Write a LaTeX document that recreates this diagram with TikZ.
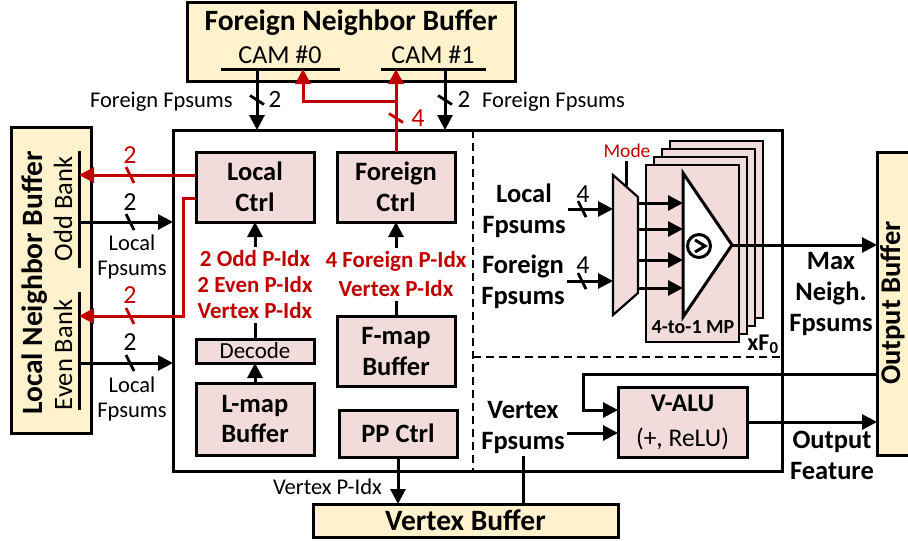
\documentclass[tikz,border=0pt]{standalone}
\usepackage{fontspec}
\setmainfont{Carlito}
\usetikzlibrary{arrows.meta,calc}
\definecolor{bufyellow}{HTML}{FFF2CC}
\definecolor{blockpink}{HTML}{F2DCDB}
\definecolor{ctrlred}{HTML}{C00000}
\newcommand\fsz[2]{\fontsize{#1}{#2}\selectfont}
% bus-width ticks across a vertical / horizontal wire
\newcommand\busV[2][black]{\draw[line width=2.8pt,#1] ($(#2)+(-7,-4.5)$) -- ($(#2)+(7,4.5)$);}
\newcommand\busH[2][black]{\draw[line width=2.8pt,#1] ($(#2)+(-4,-8)$) -- ($(#2)+(4,8)$);}
\begin{document}
\begin{tikzpicture}[x=1pt,y=-1pt,
  lw/.style={line width=3pt},
  wire/.style={lw, draw=black},
  redwire/.style={lw, draw=ctrlred},
  tip/.style={-{Triangle[length=15pt,width=15pt]}},
  bufbox/.style={draw, lw, fill=bufyellow, inner sep=0pt, outer sep=0pt},
  blkbox/.style={draw, lw, fill=blockpink, inner sep=0pt, outer sep=0pt, align=center},
  title/.style={font=\bfseries\fsz{29.5}{33}, inner sep=0pt},
  blab/.style={font=\bfseries\fsz{26.5}{31}, align=center, inner sep=2pt},
  rlab/.style={font=\fsz{22.5}{25}, inner sep=0pt, align=center},
  redlab/.style={font=\bfseries\fsz{23}{26}, text=ctrlred, align=center, inner sep=4pt},
  num/.style={font=\fsz{26}{28}, inner sep=0pt},
  part/.style={line width=2.2pt, dash pattern=on 8pt off 5pt},
]
\useasboundingbox (0,0) rectangle (908,541);

% ---------------- Foreign neighbor buffer
\node[bufbox, minimum width=328, minimum height=79] (fnb) at (351,41.5) {};
\node[title, anchor=base] (fnbtitle) at (351,30) {Foreign Neighbor Buffer};
\node[font=\fsz{26}{28}, inner sep=0pt, anchor=base] (cam0) at (280,63) {CAM \#0};
\node[font=\fsz{26}{28}, inner sep=0pt, anchor=base] (cam1) at (433,63) {CAM \#1};
\coordinate (cam0L) at (221,69); \coordinate (cam0R) at (340,69);
\coordinate (cam1L) at (381,69); \coordinate (cam1R) at (486,69);
\draw[wire] (cam0L) -- (cam0R);
\draw[wire] (cam1L) -- (cam1R);

% ---------------- processing element outline and partitions
\node[draw, lw, minimum width=609, minimum height=341, inner sep=0pt, outer sep=0pt] (main) at (477.5,300.5) {};
\coordinate (split) at (473,357);
\draw[part] (split |- main.north) -- (split |- main.south);
\draw[part] (split) -- (split -| main.east);

% ---------------- local neighbor buffer
\node[bufbox, minimum width=80, minimum height=306] (lnb) at (51,280) {};
\node[title, rotate=90, anchor=base] (lnbtitle) at (42,283) {Local Neighbor Buffer};
\node[font=\fsz{26.5}{28}, inner sep=0pt, rotate=90, anchor=base] (oddlab) at (72,209) {Odd Bank};
\node[font=\fsz{26.5}{28}, inner sep=0pt, rotate=90, anchor=base] (evenlab) at (72,355) {Even Bank};
\coordinate (oddT) at (79,151); \coordinate (oddB) at (79,268);
\coordinate (evenT) at (79,292); \coordinate (evenB) at (79,410);
\draw[wire] (oddT) -- (oddB);
\draw[wire] (evenT) -- (evenB);

% ---------------- output buffer
\node[bufbox, minimum width=40, minimum height=303] (outbuf) at (897,303.5) {};
\node[title, font=\bfseries\fsz{28.5}{32}, rotate=90, anchor=base] (outtitle) at (900,303) {Output Buffer};

% ---------------- vertex buffer
\node[bufbox, minimum width=305, minimum height=33, font=\bfseries\fsz{29.5}{33}] (vbuf) at (465.5,520.5) {Vertex Buffer};

% ---------------- control blocks
\node[blkbox, blab, inner sep=0pt, minimum width=118, minimum height=70] (lctrl) at (255,187) {Local\\Ctrl};
\node[blkbox, blab, inner sep=0pt, minimum width=118, minimum height=70] (fctrl) at (396,187) {Foreign\\Ctrl};
\node[blkbox, font=\fsz{23}{25}, minimum width=118, minimum height=24] (decode) at (255,351) {Decode};
\node[blkbox, blab, inner sep=0pt, minimum width=118, minimum height=72] (lmap) at (255,419) {L-map\\Buffer};
\node[blkbox, blab, inner sep=0pt, minimum width=118, minimum height=70] (fmap) at (396,351) {F-map\\Buffer};
\node[blkbox, blab, inner sep=0pt, minimum width=118, minimum height=47] (ppctrl) at (398,433.5) {PP Ctrl};

\node[redlab] (lidx) at (255,285) {2 Odd P-Idx\\2 Even P-Idx\\Vertex P-Idx};
\node[redlab, font=\bfseries\fsz{23}{29}] (fidx) at (396,274.5) {4 Foreign P-Idx\\Vertex P-Idx};
\draw[wire, tip] (lidx.north) -- (lctrl.south);
\draw[wire] (decode.north) -- (lidx.south);
\draw[wire, tip] (lmap.north) -- (decode.south);
\draw[wire, tip] (fidx.north) -- (fctrl.south);
\draw[wire] (fmap.north) -- (fidx.south);

% ---------------- foreign fpsums from the CAMs
\coordinate (cam0out) at (257,69);
\coordinate (cam1out) at (445,69);
\draw[wire, tip] (cam0out) -- (cam0out |- main.north);
\draw[wire, tip] (cam1out) -- (cam1out |- main.north);
\coordinate (b1) at (257,100); \busV{b1}
\coordinate (b2) at (445,100); \busV{b2}
\node[num, font=\fsz{25}{27}, anchor=base] (n1) at (275,107) {2};
\node[num, font=\fsz{25}{27}, anchor=base] (n2) at (464,107) {2};
\node[rlab, anchor=base east] (ffl) at (233,107) {Foreign Fpsums};
\node[rlab, anchor=base west] (ffr) at (482,107) {Foreign Fpsums};

% ---------------- foreign P-Idx to the CAMs
\coordinate (fsplitY) at (0,101);
\coordinate (cam0in) at (303,69);
\draw[redwire, tip] (fctrl.north) -- (fctrl.north |- cam1L);
\draw[redwire, tip] (fctrl.north |- fsplitY) -| (cam0in);
\coordinate (b3) at ($(fctrl.north |- fsplitY)+(0,17)$); \busV[ctrlred]{b3}
\node[num, text=ctrlred, anchor=base] (n3) at (418,126) {4};

% ---------------- local neighbor buffer links
\coordinate (oddIn) at (79,175);
\coordinate (oddOut) at (79,222);
\coordinate (evenIn) at (79,316);
\coordinate (evenOut) at (79,363);
\draw[redwire, tip] (lctrl.west |- oddIn) -- (oddIn);
\draw[redwire, tip] ($(lctrl.west)+(0,11)$) -- ++(-13,0) |- (evenIn);
\draw[wire, tip] (oddOut) -- (oddOut -| main.west);
\draw[wire, tip] (evenOut) -- (evenOut -| main.west);
\coordinate (s1) at (130,175); \busH[ctrlred]{s1}
\coordinate (s2) at (130,222); \busH{s2}
\coordinate (s3) at (130,316); \busH[ctrlred]{s3}
\coordinate (s4) at (130,363); \busH{s4}
\node[num, text=ctrlred, anchor=base] (n4) at (130,163) {2};
\node[num, anchor=base] (n5) at (130,210) {2};
\node[num, text=ctrlred, anchor=base] (n6) at (130,303) {2};
\node[num, anchor=base] (n7) at (130,350) {2};
\node[rlab] (lf1) at (132,257) {Local\\Fpsums};
\node[rlab] (lf2) at (132,399) {Local\\Fpsums};

% ---------------- max-pooling datapath
\coordinate (muxTL) at (613,175); \coordinate (muxTR) at (638,197);
\coordinate (muxBR) at (638,293); \coordinate (muxBL) at (613,315);
\draw[line width=2.2pt, fill=blockpink] (muxTL) -- (muxTR) -- (muxBR) -- (muxBL) -- cycle;
\foreach \k in {3,2,1}
  \draw[line width=2.6pt, fill=blockpink] (646+8*\k,165-8*\k) rectangle (739+8*\k,342-8*\k);
\node[draw, line width=2.6pt, fill=blockpink, minimum width=93, minimum height=177, inner sep=0pt, outer sep=0pt] (mp) at (692.5,253.5) {};
\coordinate (cmpT) at (683,173); \coordinate (cmpB) at (683,317); \coordinate (cmpO) at (732,245);
\draw[lw, fill=white] (cmpT) -- (cmpO) -- (cmpB) -- cycle;
\node[draw, circle, lw, minimum size=23, inner sep=0pt] (gt) at (699,246) {};
\draw[lw] ($(gt)+(-4,-6)$) -- ($(gt)+(6,0)$) -- ($(gt)+(-4,6)$);
\foreach \yy in {203,229,260,288} {
  \coordinate (mo) at (638,\yy);
  \draw[wire, tip] (mo) -- (mo -| cmpT);
}
\node[blab] (locfps) at (524,210.5) {Local\\Fpsums};
\node[blab] (forfps) at (523,281.5) {Foreign\\Fpsums};
\coordinate (muxin1) at (613,209); \coordinate (muxin2) at (613,281);
\draw[wire, tip] (locfps.east |- muxin1) -- (muxin1);
\draw[wire, tip] (forfps.east |- muxin2) -- (muxin2);
\coordinate (s5) at (582,209); \busH{s5}
\coordinate (s6) at (582,281); \busH{s6}
\node[num, anchor=base] (n8) at (583,202) {4};
\node[num, anchor=base] (n9) at (583,273) {4};
\node[font=\fsz{19.5}{21}, text=ctrlred, inner sep=4pt, anchor=base] (mode) at (627,157) {Mode};
\coordinate (modeIn) at ($(muxTL)!0.52!(muxTR)$);
\draw[wire] (modeIn |- mode.south) -- (modeIn);
\draw[wire, tip] (cmpO) -- (cmpO -| outbuf.west);
\node[blab] (maxfps) at (831,294) {Max\\Neigh.\\Fpsums};
\node[font=\bfseries\fsz{20}{22}, inner sep=0pt, anchor=base] (mplab) at (693,333) {4-to-1 MP};
\node[font=\bfseries\fsz{24}{25}, inner sep=0pt, anchor=base] (xf) at (763,350) {xF\textsubscript{0}};

% ---------------- vertex path
\node[blkbox, font=\fsz{25.5}{35}, minimum width=129, minimum height=70] (valu) at (682.5,422) {{\bfseries V-ALU}\\(+, ReLU)};
\node[blab] (vfps) at (523,427.5) {Vertex\\Fpsums};
\coordinate (vinB) at ($(valu.west)+(0,11)$);
\coordinate (vinA) at ($(valu.west)+(0,-12)$);
\coordinate (fbY) at (0,374); \coordinate (fbX) at (583,0);
\draw[wire, tip] (vfps.east |- vinB) -- (vinB);
\draw[wire] (vfps.south) -- (vfps.south |- vbuf.north);
\draw[wire, tip] (outbuf.west |- fbY) -| (fbX |- vinA) -- (vinA);
\draw[wire, tip] (valu.east) -- (valu.east -| outbuf.west);
\node[blab] (ofeat) at (832,455) {Output\\Feature};

\draw[wire, tip] (ppctrl.south) -- (ppctrl.south |- vbuf.north);
\node[rlab, anchor=base east] (vpidx) at (382,494) {Vertex P-Idx};
\end{tikzpicture}
\end{document}
